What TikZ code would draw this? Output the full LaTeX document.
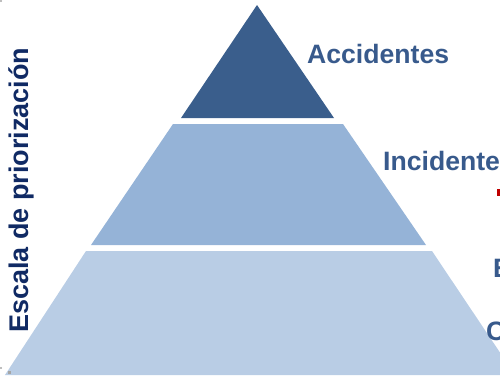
\documentclass[tikz,border=0pt]{standalone}
\usepackage{fontspec}
\setmainfont{Liberation Sans}
\definecolor{topblue}{RGB}{58, 94, 140}
\definecolor{midblue}{RGB}{149, 179, 215}
\definecolor{lowblue}{RGB}{185, 205, 229}
\definecolor{labblue}{RGB}{56, 90, 140}
\definecolor{navy}{RGB}{16, 42, 100}
\usetikzlibrary{positioning}

\begin{document}
\begin{tikzpicture}[
  x=1pt, y=-1pt,
  lvl/.style={anchor=base west, inner sep=0pt, text=labblue, font=\fontsize{26.6}{30}\selectfont\bfseries}
]
  \useasboundingbox (0,0) rectangle (500,375);
  % pyramid
  \fill[topblue] (257,5) -- (334,118) -- (181,118) -- cycle;
  \fill[midblue] (173,124) -- (343,124) -- (426,245) -- (91,245) -- cycle;
  \fill[lowblue] (86,251) -- (432,251) -- (515,375) -- (5,375) -- cycle;
  % labels
  \node[lvl] (acc) at (307,63) {Accidentes};
  \node[lvl] (inc) at (383,170) {Incidentes};
  \node[lvl] (e) at (493,277) {E};
  \node[lvl] (c) at (486,340) {C};
  \node[anchor=base west, inner sep=0pt, rotate=90, text=navy, font=\fontsize{27}{30}\selectfont\bfseries] (scale) at (28,333) {Escala de priorización};
  % marks
  \fill[red!75!black] (497,189) rectangle (500,196);
  \fill[gray!70] (1,1) circle (1.2);
  \fill[gray!70] (1,368) circle (1.2);
  \fill[gray!70] (8,371) rectangle (11,374);
\end{tikzpicture}
\end{document}
